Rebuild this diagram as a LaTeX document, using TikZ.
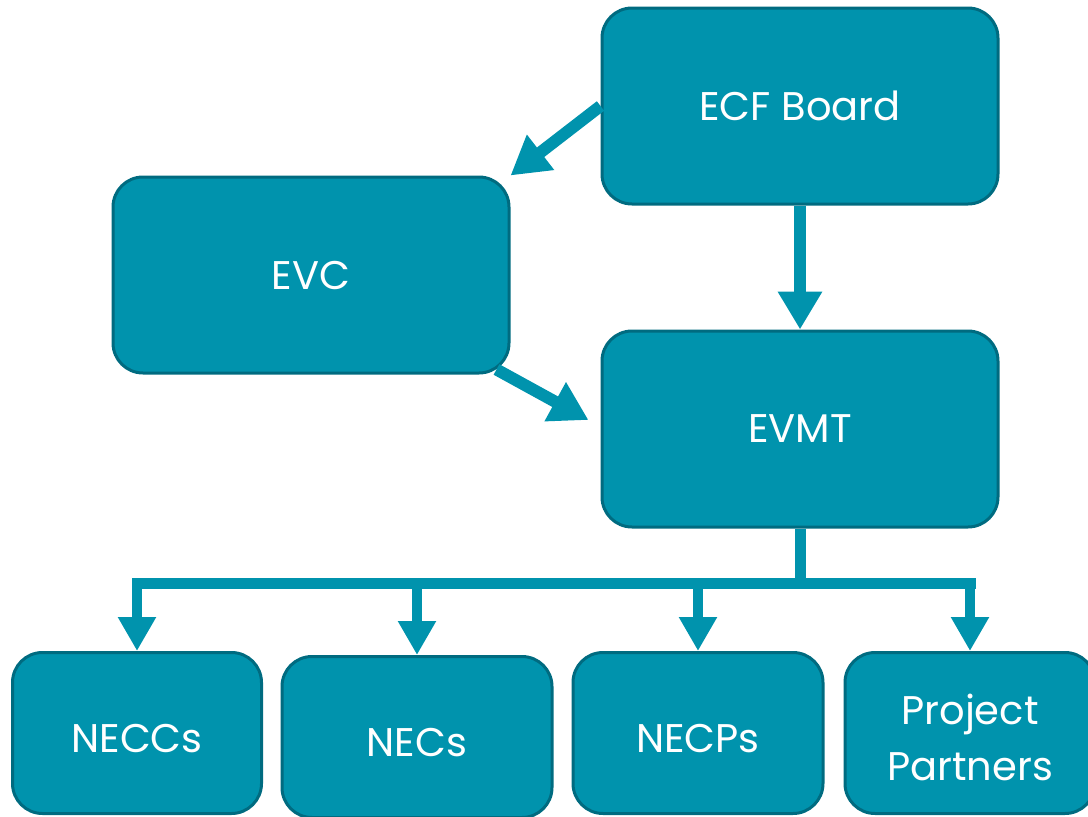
\documentclass[tikz,border=0pt]{standalone}
\usepackage{fontspec}
\setmainfont{Poppins}
\usetikzlibrary{arrows.meta}
\definecolor{tealfill}{HTML}{0093AD}
\definecolor{tealedge}{HTML}{006B80}

\begin{document}
\begin{tikzpicture}[x=1pt,y=-1pt,
    box/.style={draw=tealedge, fill=tealfill, line width=3pt, rounded corners=30pt,
        text=white, font=\fontsize{40}{56}\selectfont, align=center, inner sep=0pt},
    bigbox/.style={box, minimum width=396pt, minimum height=196pt},
    smallbox/.style={box, minimum height=161pt},
    link/.style={draw=tealfill, line width=12pt, -{Triangle[width=42pt,length=38pt]}},
    drop/.style={draw=tealfill, line width=10pt, -{Triangle[width=36pt,length=34pt]}},
    bar/.style={draw=tealfill, line width=11pt}]
    \useasboundingbox (0,0) rectangle (1088,817);
    % top part
    \node[bigbox] (board) at (800,106) {ECF Board};
    \node[bigbox] (evc) at (311,275) {EVC};
    \node[bigbox] (evmt) at (800,429) {EVMT};
    % bottom row
    \node[smallbox, minimum width=249pt, text height=39pt] (neccs) at (137,733) {NECCs};
    \node[smallbox, minimum width=270pt, text height=39pt] (necs) at (417,737) {NECs};
    \node[smallbox, minimum width=250pt, text height=39pt] (necps) at (698,733) {NECPs};
    \node[smallbox, minimum width=250pt, text height=96pt] (partners) at (970,733) {Project\\Partners};
    % connectors
    \draw[link] (board.west) -- (evc.north east);
    \draw[link] (board.south) -- (evmt.north);
    \draw[link] ([shift={(-14,-5)}]evc.south east) -- ([shift={(-12,-9)}]evmt.west);
    \coordinate (bus) at (800,583);
    \draw[bar] (evmt.south) -- (bus);
    \draw[bar, line cap=rect] (bus -| neccs.north) -- (bus -| partners.north);
    \foreach \n in {neccs,necs,necps,partners}
        \draw[drop] (bus -| \n.north) -- (\n.north);
\end{tikzpicture}
\end{document}
